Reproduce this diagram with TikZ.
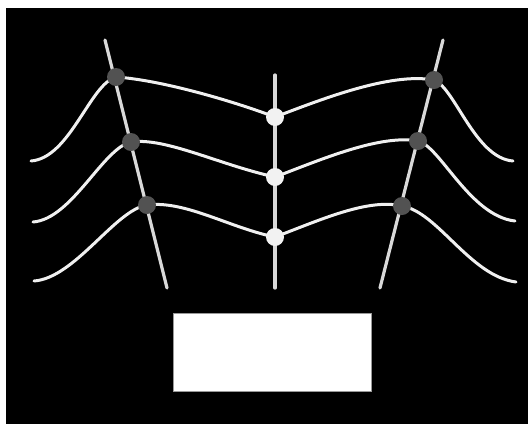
\documentclass[tikz,border=0pt]{standalone}
\begin{document}
\begin{tikzpicture}[x=1pt,y=-1pt,
  wire/.style={draw=white!94!black,line width=3pt,line cap=round},
  axisline/.style={draw=white!85!black,line width=3.2pt,line cap=round},
  darkdot/.style={circle,fill=black!68,inner sep=0pt,minimum size=18pt},
  lightdot/.style={circle,fill=white!95!black,inner sep=0pt,minimum size=18pt},
  plate/.style={draw=black!40,fill=white,line width=0.6pt}]
\useasboundingbox (0,0) rectangle (528,424);
\fill[white] (0,0) rectangle (528,424);
\fill[black] (6,8) rectangle (528,424);
% points
\coordinate (lt) at (105,40);  \coordinate (lb) at (167,288);
\coordinate (rt) at (443,40);  \coordinate (rb) at (380,288);
\coordinate (ct) at (275,75);  \coordinate (cb) at (275,288);
\coordinate (a1) at (116,77);  \coordinate (a2) at (131,142); \coordinate (a3) at (147,205);
\coordinate (b1) at (434,80);  \coordinate (b2) at (418,141); \coordinate (b3) at (402,206);
\coordinate (c1) at (275,117); \coordinate (c2) at (275,177); \coordinate (c3) at (275,237);
\coordinate (e1) at (31,161);  \coordinate (e2) at (33,222);  \coordinate (e3) at (34,281);
\coordinate (f1) at (513,161); \coordinate (f2) at (515,221); \coordinate (f3) at (516,282);
% axis lines
\draw[axisline] (lt) -- (lb);
\draw[axisline] (rt) -- (rb);
\draw[axisline] (ct) -- (cb);
% curves
\draw[wire] (e1) .. controls (70,158) and (90,84) .. (a1)
  .. controls (160,80) and (230,100) .. (c1)
  .. controls (320,100) and (390,72) .. (b1)
  .. controls (455,88) and (475,158) .. (f1);
\draw[wire] (e2) .. controls (72,219) and (103,148) .. (a2)
  .. controls (165,137) and (220,165) .. (c2)
  .. controls (320,160) and (380,134) .. (b2)
  .. controls (440,146) and (470,216) .. (f2);
\draw[wire] (e3) .. controls (75,278) and (115,210) .. (a3)
  .. controls (185,200) and (230,228) .. (c3)
  .. controls (320,220) and (368,198) .. (b3)
  .. controls (438,212) and (470,276) .. (f3);
% dots
\node[darkdot] (A1) at (a1) {}; \node[darkdot] (A2) at (a2) {}; \node[darkdot] (A3) at (a3) {};
\node[darkdot] (B1) at (b1) {}; \node[darkdot] (B2) at (b2) {}; \node[darkdot] (B3) at (b3) {};
\node[lightdot] (C1) at (c1) {}; \node[lightdot] (C2) at (c2) {}; \node[lightdot] (C3) at (c3) {};
% plate
\draw[plate] (173,313) rectangle (371,391);
\end{tikzpicture}
\end{document}
